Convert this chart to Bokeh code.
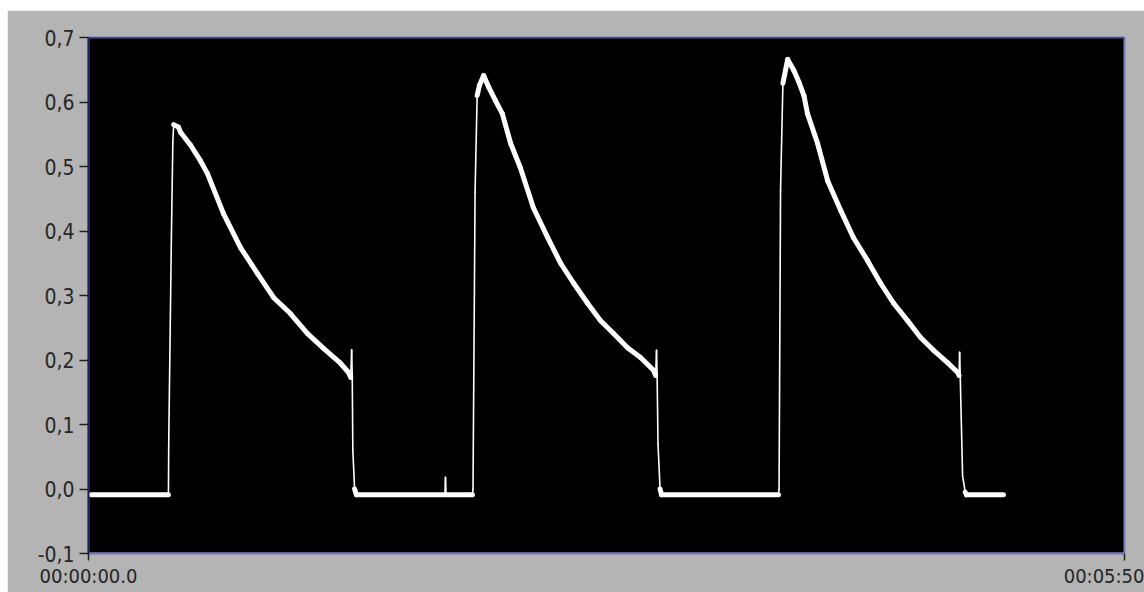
import numpy as np
from bokeh.plotting import figure
from bokeh.models import Range1d, FixedTicker, Span, ColumnDataSource
from bokeh.embed import file_html
from bokeh.resources import INLINE

# ---- data ----
# time in seconds
time_s = [0.9, 27.0, 27.1, 28.0, 28.5, 28.8, 30.4, 31.1, 34.5, 37.8,
          40.2, 45.6, 51.4, 57.1, 62.5, 68.2, 74.0, 79.4, 85.1, 87.8,
          88.6, 88.9, 89.1, 89.3, 89.9, 90.5,
          120.4, 120.6, 120.8, 129.7, 129.9, 130.6, 131.3, 132.1, 133.5, 135.2,
          137.5, 139.8, 142.6, 145.9, 150.3, 155.1, 159.5, 163.9, 168.6, 173.0,
          177.4, 182.1, 186.5, 190.9, 191.6, 191.9, 192.1, 192.4, 193.1, 193.6,
          233.1, 233.3, 233.8, 234.6, 236.2, 238.3, 240.0, 241.7, 242.9, 246.3,
          249.7, 254.1, 258.4, 263.2, 267.6, 272.0, 276.7, 281.1, 285.5, 290.2,
          293.6, 294.1, 294.3, 294.5, 295.3, 296.2, 296.6, 309.1]
signal = [-0.009, -0.009, 0.07, 0.39, 0.54, 0.565, 0.561, 0.553, 0.533, 0.509,
          0.489, 0.427, 0.374, 0.334, 0.297, 0.272, 0.241, 0.218, 0.195, 0.181,
          0.173, 0.216, 0.176, 0.06, 0.0, -0.009,
          -0.009, 0.018, -0.009, -0.009, 0.0, 0.46, 0.61, 0.626, 0.641, 0.623,
          0.602, 0.582, 0.536, 0.498, 0.436, 0.390, 0.350, 0.319, 0.288, 0.261,
          0.241, 0.219, 0.204, 0.184, 0.176, 0.215, 0.176, 0.07, 0.0, -0.009,
          -0.009, 0.0, 0.463, 0.629, 0.666, 0.649, 0.631, 0.610, 0.582, 0.536,
          0.478, 0.432, 0.390, 0.354, 0.319, 0.288, 0.261, 0.235, 0.215, 0.196,
          0.181, 0.176, 0.212, 0.176, 0.02, -0.005, -0.009, -0.009]

y_ticks = [-0.1, 0.0, 0.1, 0.2, 0.3, 0.4, 0.5, 0.6, 0.7]
y_tick_labels = ["-0,1", "0,0", "0,1", "0,2", "0,3", "0,4", "0,5", "0,6", "0,7"]
x_ticks = [0, 350]
x_tick_labels = ["00:00:00.0", "00:05:50"]

X_MIN, X_MAX = 0, 350
Y_MIN, Y_MAX = -0.1, 0.7

FONT = "'DejaVu Sans Condensed', 'Liberation Sans', sans-serif"
GRAY = "#b4b4b4"
NAVY = "#1c1c58"
LAVENDER = "#7c7cc0"

W, H = 1137, 582
BL, BR, BT, BB = 81, 20, 27, 39

p = figure(width=W, height=H, output_backend="svg", toolbar_location=None,
           x_range=Range1d(X_MIN, X_MAX), y_range=Range1d(Y_MIN, Y_MAX),
           min_border_left=BL, min_border_right=BR,
           min_border_top=BT, min_border_bottom=BB)
p.margin = (10, 0, 0, 7)

p.background_fill_color = "black"
p.border_fill_color = GRAY
p.outline_line_color = LAVENDER
p.outline_line_width = 2
p.grid.visible = False

# thick strokes where the trace is flat-ish (noise band), thin where it is near-vertical
t = np.array(time_s)
v = np.array(signal)
sx = (W - BL - BR) / (X_MAX - X_MIN)
sy = (H - BT - BB) / (Y_MAX - Y_MIN)
steep = np.abs(np.diff(v)) * sy > 6.0 * np.diff(t) * sx
widths = np.where(steep, 1.6, 5.0)
src = ColumnDataSource(dict(x0=t[:-1], y0=v[:-1], x1=t[1:], y1=v[1:], w=widths))
p.segment("x0", "y0", "x1", "y1", source=src, line_color="white",
          line_width="w", line_cap="round")

p.add_layout(Span(location=Y_MAX, dimension="width", line_color=NAVY, line_width=2))

# axes
for ax in (p.xaxis, p.yaxis):
    ax.minor_tick_line_color = None
    ax.major_tick_in = 0
    ax.major_tick_line_color = "#202020"
    ax.major_tick_line_width = 1.5
    ax.major_label_text_font = FONT
    ax.major_label_text_color = "#262626"

p.yaxis.ticker = FixedTicker(ticks=y_ticks)
p.yaxis.major_label_overrides = dict(zip(y_ticks, y_tick_labels))
p.yaxis.major_label_text_font_size = "21px"
p.yaxis.major_tick_out = 9
p.yaxis.major_label_standoff = 5
p.yaxis.axis_line_color = NAVY
p.yaxis.axis_line_width = 2

p.xaxis.ticker = FixedTicker(ticks=x_ticks)
p.xaxis.major_label_overrides = dict(zip(x_ticks, x_tick_labels))
p.xaxis.major_label_text_font_size = "20px"
p.xaxis.major_tick_out = 7
p.xaxis.major_label_standoff = 3
p.xaxis.axis_line_color = LAVENDER
p.xaxis.axis_line_width = 2

open("out.html", "w").write(file_html(p, INLINE))
